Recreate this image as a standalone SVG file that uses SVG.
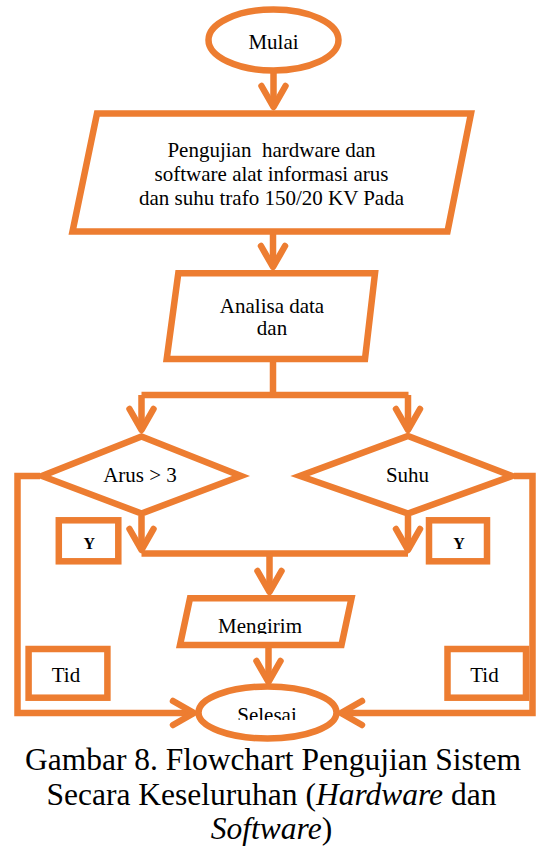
<svg xmlns="http://www.w3.org/2000/svg" width="537" height="847" viewBox="0 0 537 847">
<style>
.sh{fill:#fff;stroke:#ED7D31;stroke-width:6.5;stroke-linejoin:miter}
.cn{fill:none;stroke:#ED7D31;stroke-width:6.5;stroke-linejoin:miter}
.t{font-family:"Liberation Serif","Times New Roman",serif;font-size:21px;fill:#000;text-anchor:middle}
.yb{font-family:"Liberation Serif","Times New Roman",serif;font-size:16px;font-weight:bold;fill:#000;text-anchor:middle}
.cap{font-family:"Liberation Serif","Times New Roman",serif;font-size:31.5px;fill:#000;text-anchor:middle}
</style>
<defs>
<marker id="ah" markerUnits="userSpaceOnUse" markerWidth="40" markerHeight="40" viewBox="-30 -20 40 40" refX="0" refY="0" orient="auto" overflow="visible">
<path d="M -21 -12 L 0 0 L -21 12" fill="none" stroke="#ED7D31" stroke-width="6.5" stroke-linecap="round" stroke-linejoin="round"/>
</marker>
<clipPath id="clipM"><rect x="150" y="600" width="240" height="34"/></clipPath>
<clipPath id="clipS"><rect x="200" y="690" width="140" height="30"/></clipPath>
</defs>
<g id="connectors">
<path class="cn" d="M 273.5 72 V 107" marker-end="url(#ah)"/>
<path class="cn" d="M 273 234 V 267" marker-end="url(#ah)"/>
<path class="cn" d="M 273 361 V 395 M 141.5 395 H 408.5"/>
<path class="cn" d="M 141.5 395 V 430" marker-end="url(#ah)"/>
<path class="cn" d="M 408 395 V 430" marker-end="url(#ah)"/>
<path class="cn" d="M 141.5 516 V 550" marker-end="url(#ah)"/>
<path class="cn" d="M 408 516 V 550" marker-end="url(#ah)"/>
<path class="cn" d="M 141.5 553.5 H 408"/>
<path class="cn" d="M 269.5 553.5 V 592" marker-end="url(#ah)"/>
<path class="cn" d="M 268.5 647 V 682" marker-end="url(#ah)"/>
<path class="cn" d="M 40 476 H 17.5 V 713 H 194" marker-end="url(#ah)"/>
<path class="cn" d="M 514 476 H 532.5 V 713 H 341" marker-end="url(#ah)"/>
</g>
<g id="mulai">
<ellipse class="sh" cx="273.5" cy="40" rx="65" ry="30.5"/>
<text class="t" x="273.5" y="48.5">Mulai</text>
</g>
<g id="pengujian">
<polygon class="sh" points="97,113.5 471,113.5 447.5,231.5 72.5,231.5"/>
<text class="t" x="271.5" y="157" style="white-space:pre">Pengujian  hardware dan</text>
<text class="t" x="271.5" y="181">software alat informasi arus</text>
<text class="t" x="271.5" y="205">dan suhu trafo 150/20 KV Pada</text>
</g>
<g id="analisa">
<polygon class="sh" points="178.3,273.3 375,273.3 365,359 166.7,359"/>
<text class="t" x="272" y="313">Analisa data</text>
<text class="t" x="272" y="335">dan</text>
</g>
<g id="arus">
<polygon class="sh" points="141.5,436.5 241,476 141.5,513.5 42,476"/>
<text class="t" x="140" y="481.5">Arus &gt; 3</text>
</g>
<g id="suhu">
<polygon class="sh" points="408,436 512,476 408,513.5 300,476"/>
<text class="t" x="407.5" y="481.5">Suhu</text>
</g>
<g id="y-left">
<rect class="sh" x="58.8" y="520.3" width="59.5" height="41"/>
<text class="yb" x="89.3" y="548.5">Y</text>
</g>
<g id="y-right">
<rect class="sh" x="429" y="520.3" width="58" height="41"/>
<text class="yb" x="459" y="548.5">Y</text>
</g>
<g id="mengirim">
<polygon class="sh" points="190,598.3 351.5,598.3 341.5,645 180,645"/>
<text class="t" x="260" y="633" clip-path="url(#clipM)">Mengirim</text>
</g>
<g id="tid-left">
<rect class="sh" x="28.6" y="649" width="78.8" height="48.7"/>
<text class="t" x="66" y="681.7">Tid</text>
</g>
<g id="tid-right">
<rect class="sh" x="447.5" y="649" width="78.5" height="48.7"/>
<text class="t" x="484.5" y="681.7">Tid</text>
</g>
<g id="selesai">
<ellipse class="sh" cx="267.5" cy="712.5" rx="69" ry="26"/>
<text class="t" x="267" y="722" clip-path="url(#clipS)">Selesai</text>
</g>
<g id="caption">
<text class="cap" x="273" y="770">Gambar 8. Flowchart Pengujian Sistem</text>
<text class="cap" x="271.5" y="805">Secara Keseluruhan (<tspan font-style="italic">Hardware</tspan> dan</text>
<text class="cap" x="271.5" y="838.5"><tspan font-style="italic">Software</tspan>)</text>
</g>
</svg>
